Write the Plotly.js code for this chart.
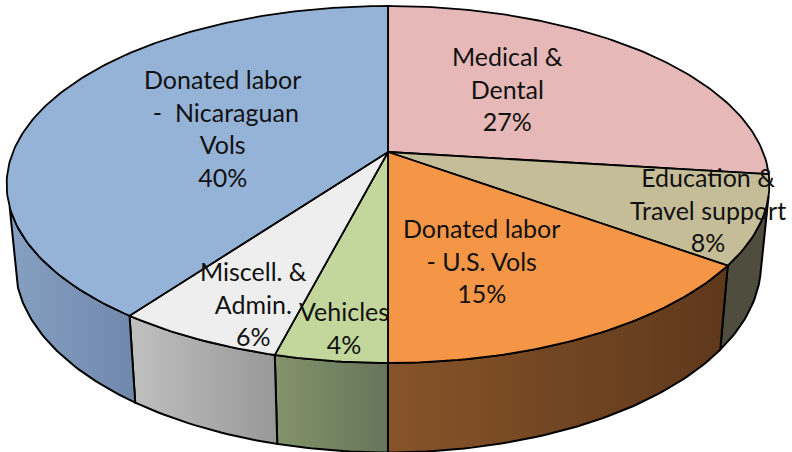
<!DOCTYPE html>
<html><head><meta charset="utf-8">
<script src="https://cdn.plot.ly/plotly-3.0.1.min.js"></script>
<style>html,body{margin:0;padding:0;background:#fff}</style></head>
<body><div id="chart" style="width:792px;height:452px"></div>
<script>
// Data
const categories = ["Medical &<br>Dental","Education &<br>Travel support","Donated labor<br>- U.S. Vols","Vehicles","Miscell. &<br>Admin.","Donated labor<br> -  Nicaraguan<br>Vols"];
const values = [27,8,15,4,6,40];
// Styles
const topColors = ["#E6B8B7","#C4BD97","#F59646","#C3D69B","#EEEEEE","#95B3D7"];
const sideLeft = ["#8f6f6e","#4f4d3e","#875429","#83936a","#c0c0c0","#86a0c2"];
const sideRight = ["#8f6f6e","#4f4d3e","#5e381c","#66755a","#989898","#7088ab"];
const labelX = [507,708,481,344,253,222];
const labelY = [88,209,260,327,303,128];

// Perspective pie geometry
const cx=388, apexY=152, R=375, persp=0.182, vScale=144.9;
const sideStart=104, sideEnd=252.5;
function topPt(t){const a=t*Math.PI/180,u=Math.sin(a),v=Math.cos(a),w=1+persp*v;
  return [cx+R*u/w,(apexY-vScale*v)/w];}
function botPt(t){const p=topPt(t);return [cx+0.978*(p[0]-cx),1.055*p[1]+69.5];}
function arc(fn,a,b){const n=Math.max(2,Math.ceil(Math.abs(b-a)));const out=[];
  for(let i=0;i<=n;i++)out.push(fn(a+(b-a)*i/n));return out;}

const total=values.reduce((s,v)=>s+v,0);
const sides=[],tops=[];
let acc=0;
values.forEach((val,i)=>{
  const t0=acc/total*360,t1=(acc+val)/total*360;acc+=val;
  const s0=Math.max(t0,sideStart),s1=Math.min(t1,sideEnd);
  if(s1>s0){
    const pts=arc(topPt,s0,s1).concat(arc(botPt,s1,s0));pts.push(pts[0]);
    sides.push({x:pts.map(p=>p[0]),y:pts.map(p=>p[1]),mode:'lines',fill:'toself',
      line:{color:'#000',width:2},hoverinfo:'skip',showlegend:false,
      fillgradient:{type:'horizontal',colorscale:[[0,sideLeft[i]],[1,sideRight[i]]]}});
  }
  const pts=[[cx,apexY]].concat(arc(topPt,t0,t1));pts.push([cx,apexY]);
  tops.push({x:pts.map(p=>p[0]),y:pts.map(p=>p[1]),mode:'lines',fill:'toself',fillcolor:topColors[i],
    line:{color:'#000',width:1.8},hoverinfo:'skip',showlegend:false});
});
const annotations=categories.map((c,i)=>({xref:'x',yref:'y',x:labelX[i],y:labelY[i],
  text:c+'<br>'+values[i]+'%',showarrow:false,xanchor:'center',yanchor:'middle',align:'center',
  font:{family:'Lato, "Open Sans", sans-serif',size:25,color:'#111'}}));
const axis={visible:false,fixedrange:true,showgrid:false,zeroline:false};
Plotly.newPlot('chart',sides.concat(tops),{
  width:792,height:452,margin:{l:0,r:0,t:0,b:0},paper_bgcolor:'#fff',plot_bgcolor:'#fff',showlegend:false,
  xaxis:Object.assign({range:[0,792]},axis),yaxis:Object.assign({range:[452,0]},axis),annotations
},{displayModeBar:false,staticPlot:true});
</script></body></html>
